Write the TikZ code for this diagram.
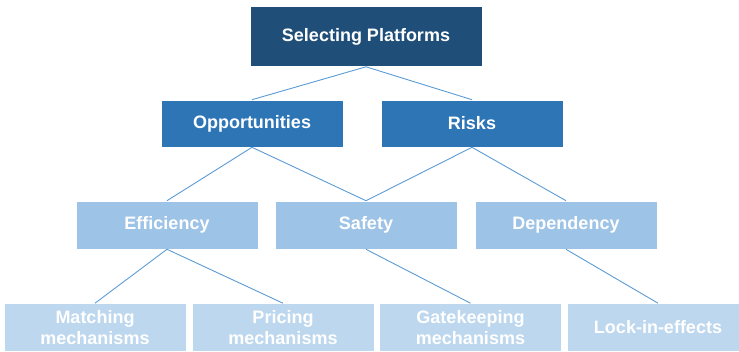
\documentclass[tikz,border=0pt]{standalone}
\usepackage{fontspec}
\setmainfont{Liberation Sans}
\definecolor{lvA}{HTML}{1F4E79}
\definecolor{lvB}{HTML}{2E75B6}
\definecolor{lvC}{HTML}{9DC3E6}
\definecolor{lvD}{HTML}{BDD7EE}
\definecolor{link}{HTML}{5B9BD5}
\begin{document}
\begin{tikzpicture}[x=1pt,y=-1pt,
  box/.style={rectangle, inner sep=0pt, minimum width=182pt, minimum height=48pt,
    text=white, font=\fontsize{18}{21.7}\selectfont\bfseries, align=center, draw=white, line width=0.6pt},
  conn/.style={draw=link, line width=0.9pt}]
\useasboundingbox (0,0) rectangle (739,351);
\begin{scope}
\clip (0,0) rectangle (739,351);
\node[box, fill=lvA, minimum width=232pt, minimum height=60pt] (top) at (366,36.5) {Selecting Platforms};
\node[box, fill=lvB, minimum height=47pt] (opp) at (252,123.5) {Opportunities};
\node[box, fill=lvB, minimum height=47pt] (risk) at (472,123.5) {Risks};
\node[box, fill=lvC] (eff) at (167,225) {Efficiency};
\node[box, fill=lvC] (saf) at (366,225) {Safety};
\node[box, fill=lvC] (dep) at (566,225) {Dependency};
\node[box, fill=lvD] (match) at (95,327.5) {Matching\\mechanisms};
\node[box, fill=lvD] (price) at (283,327.5) {Pricing\\mechanisms};
\node[box, fill=lvD] (gate) at (470.5,327.5) {Gatekeeping\\mechanisms};
\node[box, fill=lvD] (lock) at (658,327.5) {Lock-in-effects};
\draw[conn] (top.south) -- (opp.north);
\draw[conn] (top.south) -- (risk.north);
\draw[conn] (opp.south) -- (eff.north);
\draw[conn] (opp.south) -- (saf.north);
\draw[conn] (risk.south) -- (saf.north);
\draw[conn] (risk.south) -- (dep.north);
\draw[conn] (eff.south) -- (match.north);
\draw[conn] (eff.south) -- (price.north);
\draw[conn] (saf.south) -- (gate.north);
\draw[conn] (dep.south) -- (lock.north);
\end{scope}
\end{tikzpicture}
\end{document}
